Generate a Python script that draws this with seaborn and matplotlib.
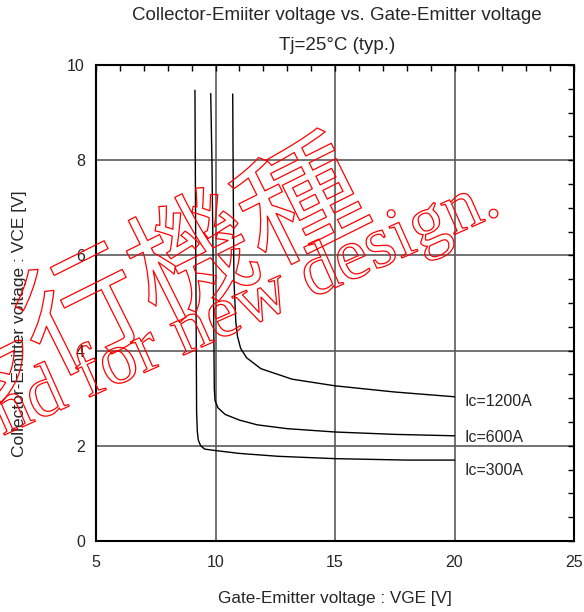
import numpy as np
import pandas as pd
import seaborn as sns
import matplotlib
matplotlib.use("Agg")
import matplotlib.pyplot as plt
from matplotlib import patheffects as pe
from matplotlib.ticker import MultipleLocator

# VCE vs VGE, Tj=25C
vge_300 = [9.14, 9.15, 9.18, 9.21, 9.24, 9.28, 9.38, 9.55, 10.0, 11.0, 12.6, 15.0, 18.0, 20.0]
vce_300 = [9.47, 8.30, 5.50, 2.70, 2.30, 2.12, 2.00, 1.93, 1.90, 1.84, 1.78, 1.73, 1.70, 1.70]

vge_600 = [9.80, 9.85, 9.91, 9.95, 9.98, 10.1, 10.4, 11.0, 11.75, 13.0, 15.0, 17.5, 20.0]
vce_600 = [9.40, 8.00, 5.50, 3.20, 2.95, 2.80, 2.66, 2.54, 2.44, 2.36, 2.29, 2.24, 2.21]

vge_1200 = [10.72, 10.74, 10.77, 10.85, 10.92, 11.05, 11.3, 11.9, 13.2, 15.0, 17.5, 20.0]
vce_1200 = [9.39, 7.60, 5.50, 4.60, 4.30, 4.05, 3.85, 3.62, 3.40, 3.26, 3.13, 3.03]

labels = ["Ic=300A", "Ic=600A", "Ic=1200A"]
label_y = [1.48, 2.18, 2.94]

curves = pd.concat([
    pd.DataFrame({"VGE": vge_300, "VCE": vce_300, "Ic": labels[0]}),
    pd.DataFrame({"VGE": vge_600, "VCE": vce_600, "Ic": labels[1]}),
    pd.DataFrame({"VGE": vge_1200, "VCE": vce_1200, "Ic": labels[2]}),
])

sns.set_style("white")
plt.rcParams["font.family"] = ["Liberation Sans", "DejaVu Sans"]

fig = plt.figure(figsize=(5.84, 6.12), dpi=100)
ax = fig.add_axes([96 / 584, 1 - 541 / 612, 478 / 584, 476 / 612])

for lab in labels:
    d = curves[curves["Ic"] == lab]
    sns.lineplot(data=d, x="VGE", y="VCE", sort=False, estimator=None,
                 color="black", linewidth=1.0, ax=ax, zorder=3)

for lab, yy in zip(labels, label_y):
    ax.text(20.4, yy, lab, fontsize=11.5, va="center", ha="left", zorder=4)

ax.set_xlim(5, 25)
ax.set_ylim(0, 10)
ax.xaxis.set_major_locator(MultipleLocator(5))
ax.xaxis.set_minor_locator(MultipleLocator(1))
ax.yaxis.set_major_locator(MultipleLocator(2))
ax.yaxis.set_minor_locator(MultipleLocator(0.5))
ax.grid(True, which="major", color="#5a5a5a", linewidth=1.2)
ax.tick_params(which="both", direction="in", top=True, right=True,
               length=4, width=1, color="black", labelsize=11.5)
ax.tick_params(axis="x", which="major", pad=10)
ax.tick_params(axis="y", which="major", pad=8)
for s in ax.spines.values():
    s.set_color("black")
    s.set_linewidth(1.5)

ax.set_xlabel("Gate-Emitter voltage : VGE [V]", fontsize=12.3)
ax.set_ylabel("Collector-Emitter voltage : VCE [V]", fontsize=12.5)
ax.xaxis.set_label_coords(0.5, -0.12)
ax.xaxis.label.set_va("center")
ax.yaxis.set_label_coords(-0.159, 0.456)
ax.yaxis.label.set_va("center")

fig.text(337 / 584, 1 - 15 / 612, "Collector-Emiiter voltage vs. Gate-Emitter voltage",
         fontsize=13.5, ha="center", va="center")
fig.text(337 / 584, 1 - 45 / 612, "Tj=25°C (typ.)",
         fontsize=13.5, ha="center", va="center")

# red outline watermark
outline = [pe.Stroke(linewidth=0.9, foreground="red")]
fig.text(386 / 584, 1 - 238 / 612, "移行機種", fontsize=88,
         family=["Noto Sans CJK JP", "DejaVu Sans"], color="none",
         rotation=26.5, rotation_mode="anchor", ha="right", va="bottom",
         path_effects=outline, zorder=10)
fig.text(503 / 584, 1 - 213 / 612, "Not recommend for new design.", fontsize=53,
         family=["Liberation Serif", "DejaVu Serif"], color="none",
         rotation=24, rotation_mode="anchor", ha="right", va="baseline",
         path_effects=outline, zorder=10)

fig.savefig("out.png", dpi=100)
